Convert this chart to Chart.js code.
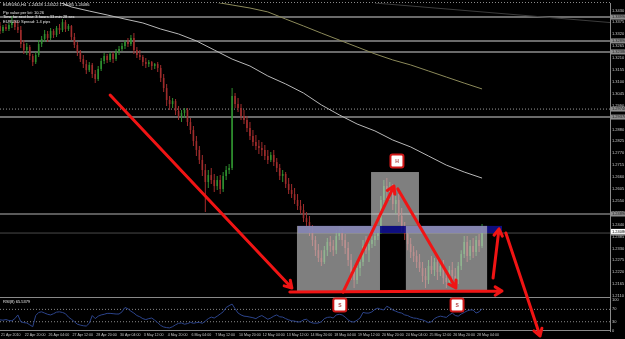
<!DOCTYPE html>
<html>
<head>
<meta charset="utf-8">
<script src="https://cdn.jsdelivr.net/npm/chart.js@4.4.0/dist/chart.umd.min.js"></script>
<style>
  html, body { margin: 0; padding: 0; background: #000; }
  #wrap { width: 625px; height: 339px; }
</style>
</head>
<body>
<div id="wrap"><canvas id="chart" width="625" height="339"></canvas></div>
<script>
// EURUSD H4, 21 Apr - 28 May 2010, one value per bar
const tickLabels = ["21 Apr 2010", "22 Apr 20:00", "26 Apr 04:00", "27 Apr 12:00", "28 Apr 20:00", "30 Apr 04:00",
  "3 May 12:00", "4 May 20:00", "6 May 04:00", "7 May 12:00", "10 May 20:00", "12 May 04:00", "13 May 12:00",
  "14 May 20:00", "18 May 04:00", "19 May 12:00", "20 May 20:00", "24 May 04:00", "25 May 12:00",
  "26 May 20:00", "28 May 04:00"];

const priceTicks = [1.2110, 1.2165, 1.2220, 1.2275, 1.2330, 1.2385, 1.2440, 1.2495, 1.2550, 1.2605, 1.2660,
  1.2715, 1.2770, 1.2825, 1.2880, 1.2935, 1.2990, 1.3045, 1.3100, 1.3155, 1.3210, 1.3265, 1.3320, 1.3375, 1.3430];
const rsiTicks = [100, 70, 30, 0];

const opens = [1.3358,1.3335,1.3353,1.3344,1.3362,1.3376,1.3353,1.3339,1.3275,1.3247,
  1.3261,1.3219,1.3191,1.3224,1.3275,1.3298,1.3321,1.3302,1.3335,1.3316,
  1.3349,1.3339,1.3376,1.3344,1.3358,1.3307,1.3270,1.3238,1.3205,1.3182,
  1.3154,1.3178,1.3136,1.3113,1.3159,1.3196,1.3219,1.3201,1.3228,1.3205,
  1.3238,1.3252,1.3265,1.3284,1.3275,1.3302,1.3247,1.3224,1.3215,1.3191,
  1.3182,1.3191,1.3173,1.3182,1.3164,1.3118,1.3071,1.3016,1.2997,1.3011,
  1.2965,1.2942,1.2956,1.2970,1.2914,1.2877,1.2826,1.2785,1.2739,1.2692,
  1.2637,1.2669,1.2646,1.2618,1.2646,1.2605,1.2665,1.2692,1.2702,1.3034,
  1.2997,1.2979,1.2942,1.2923,1.2886,1.2849,1.2822,1.2803,1.2794,1.2785,
  1.2757,1.2739,1.2762,1.2729,1.2702,1.2665,1.2674,1.2628,1.2600,1.2581,
  1.2554,1.2526,1.2507,1.2470,1.2452,1.2415,1.2369,1.2322,1.2286,1.2267,
  1.2322,1.2360,1.2341,1.2322,1.2387,1.2406,1.2369,1.2332,1.2276,1.2221,
  1.2184,1.2239,1.2267,1.2341,1.2322,1.2350,1.2369,1.2387,1.2415,1.2554,
  1.2618,1.2591,1.2609,1.2535,1.2554,1.2480,1.2433,1.2396,1.2350,1.2313,
  1.2295,1.2267,1.2239,1.2202,1.2184,1.2249,1.2230,1.2267,1.2221,1.2249,
  1.2193,1.2175,1.2230,1.2202,1.2184,1.2249,1.2304,1.2360,1.2295,1.2341,
  1.2313,1.2369,1.2341];
const highs = [1.3376,1.3362,1.3367,1.3372,1.3404,1.3386,1.3381,1.3358,1.3293,1.3279,
  1.3270,1.3228,1.3238,1.3293,1.3312,1.3339,1.3335,1.3349,1.3344,1.3358,
  1.3367,1.3390,1.3386,1.3367,1.3362,1.3325,1.3284,1.3247,1.3224,1.3201,
  1.3191,1.3187,1.3154,1.3173,1.3210,1.3233,1.3228,1.3238,1.3238,1.3252,
  1.3265,1.3279,1.3293,1.3302,1.3316,1.3325,1.3261,1.3247,1.3224,1.3210,
  1.3201,1.3196,1.3187,1.3191,1.3178,1.3136,1.3090,1.3034,1.3025,1.3020,
  1.2988,1.2970,1.2979,1.2979,1.2933,1.2896,1.2849,1.2803,1.2762,1.2720,
  1.2692,1.2702,1.2674,1.2665,1.2669,1.2683,1.2711,1.2720,1.3071,1.3048,
  1.3025,1.2997,1.2970,1.2942,1.2914,1.2877,1.2854,1.2831,1.2822,1.2808,
  1.2785,1.2776,1.2785,1.2748,1.2720,1.2692,1.2683,1.2655,1.2628,1.2609,
  1.2581,1.2554,1.2535,1.2498,1.2480,1.2438,1.2387,1.2350,1.2322,1.2341,
  1.2378,1.2387,1.2369,1.2415,1.2433,1.2424,1.2396,1.2360,1.2304,1.2249,
  1.2267,1.2295,1.2369,1.2387,1.2369,1.2387,1.2415,1.2433,1.2572,1.2646,
  1.2655,1.2637,1.2628,1.2572,1.2581,1.2517,1.2452,1.2424,1.2378,1.2341,
  1.2322,1.2304,1.2267,1.2239,1.2276,1.2295,1.2286,1.2295,1.2267,1.2276,
  1.2230,1.2249,1.2267,1.2239,1.2267,1.2322,1.2387,1.2387,1.2369,1.2378,
  1.2387,1.2396,1.2443];
const lows = [1.3321,1.3325,1.3335,1.3335,1.3349,1.3339,1.3325,1.3256,1.3228,1.3224,
  1.3201,1.3173,1.3182,1.3215,1.3261,1.3284,1.3284,1.3293,1.3302,1.3307,
  1.3321,1.3330,1.3330,1.3335,1.3293,1.3256,1.3219,1.3191,1.3164,1.3136,
  1.3145,1.3118,1.3094,1.3104,1.3150,1.3182,1.3187,1.3191,1.3187,1.3196,
  1.3224,1.3242,1.3252,1.3261,1.3265,1.3228,1.3210,1.3201,1.3173,1.3164,
  1.3168,1.3154,1.3159,1.3145,1.3099,1.3053,1.2988,1.2970,1.2979,1.2946,
  1.2923,1.2914,1.2933,1.2896,1.2859,1.2803,1.2757,1.2720,1.2665,1.2498,
  1.2609,1.2628,1.2591,1.2600,1.2581,1.2591,1.2646,1.2674,1.2692,1.2979,
  1.2960,1.2923,1.2905,1.2868,1.2831,1.2803,1.2785,1.2766,1.2757,1.2739,
  1.2720,1.2729,1.2711,1.2683,1.2646,1.2637,1.2609,1.2581,1.2563,1.2535,
  1.2507,1.2489,1.2452,1.2433,1.2387,1.2341,1.2295,1.2267,1.2249,1.2258,
  1.2295,1.2313,1.2295,1.2304,1.2369,1.2341,1.2304,1.2249,1.2184,1.2147,
  1.2165,1.2202,1.2249,1.2304,1.2267,1.2332,1.2341,1.2369,1.2396,1.2526,
  1.2563,1.2554,1.2507,1.2489,1.2452,1.2406,1.2369,1.2322,1.2286,1.2267,
  1.2239,1.2221,1.2175,1.2147,1.2165,1.2212,1.2202,1.2184,1.2202,1.2165,
  1.2147,1.2156,1.2175,1.2156,1.2165,1.2230,1.2286,1.2267,1.2276,1.2286,
  1.2295,1.2313,1.2332];
const closes = [1.3335,1.3353,1.3344,1.3362,1.3376,1.3353,1.3339,1.3275,1.3247,1.3261,
  1.3219,1.3191,1.3224,1.3275,1.3298,1.3321,1.3302,1.3335,1.3316,1.3349,
  1.3339,1.3376,1.3344,1.3358,1.3307,1.3270,1.3238,1.3205,1.3182,1.3154,
  1.3178,1.3136,1.3113,1.3159,1.3196,1.3219,1.3201,1.3228,1.3205,1.3238,
  1.3252,1.3265,1.3284,1.3275,1.3302,1.3247,1.3224,1.3215,1.3191,1.3182,
  1.3191,1.3173,1.3182,1.3164,1.3118,1.3071,1.3016,1.2997,1.3011,1.2965,
  1.2942,1.2956,1.2970,1.2914,1.2877,1.2826,1.2785,1.2739,1.2692,1.2637,
  1.2669,1.2646,1.2618,1.2646,1.2605,1.2665,1.2692,1.2702,1.3034,1.2997,
  1.2979,1.2942,1.2923,1.2886,1.2849,1.2822,1.2803,1.2794,1.2785,1.2757,
  1.2739,1.2762,1.2729,1.2702,1.2665,1.2674,1.2628,1.2600,1.2581,1.2554,
  1.2526,1.2507,1.2470,1.2452,1.2415,1.2369,1.2322,1.2286,1.2267,1.2322,
  1.2360,1.2341,1.2322,1.2387,1.2406,1.2369,1.2332,1.2276,1.2221,1.2184,
  1.2239,1.2267,1.2341,1.2322,1.2350,1.2369,1.2387,1.2415,1.2554,1.2618,
  1.2591,1.2609,1.2535,1.2554,1.2480,1.2433,1.2396,1.2350,1.2313,1.2295,
  1.2267,1.2239,1.2202,1.2184,1.2249,1.2230,1.2267,1.2221,1.2249,1.2193,
  1.2175,1.2230,1.2202,1.2184,1.2249,1.2304,1.2360,1.2295,1.2341,1.2313,
  1.2369,1.2341,1.2406];

const rsi = [36,35,37,34,33,40,52,30,27,26,
  20,14,50,60,62,58,54,52,56,61,
  62,60,56,45,38,30,22,19,17,16,
  25,50,40,48,52,54,57,57,56,55,
  55,62,76,72,64,58,50,46,40,37,
  40,42,35,27,18,13,11,10,14,20,
  25,26,22,24,28,25,27,28,25,32,
  40,45,42,48,55,62,76,82,87,72,
  58,52,48,47,45,43,40,46,50,44,
  38,42,48,52,46,45,40,36,33,32,
  29,30,36,38,30,26,25,26,30,40,
  44,45,42,52,54,52,45,36,30,29,
  35,42,60,58,58,62,70,74,70,68,
  80,75,68,64,60,58,52,50,45,42,
  41,38,36,32,27,30,40,45,48,46,
  44,52,58,50,48,55,60,65,68,68,
  58,62,72];

// moving averages, read every 6 bars
const maBars = [0,6,12,18,24,30,36,42,48,54,60,66,72,78,84,90,96,102,108,114,120,126,132,138,144,150,156,162];
const maFast = [1.3533,1.3515,1.3497,1.3478,1.3446,1.3427,1.3409,1.3390,1.3372,1.3344,1.3321,1.3289,1.3247,1.3205,
  1.3173,1.3127,1.3090,1.3048,1.2993,1.2947,1.2905,1.2873,1.2831,1.2799,1.2757,1.2715,1.2683,1.2655];
const maSlow = [null,null,null,null,null,null,null,null,null,1.3525,1.3510,1.3490,1.3469,1.3455,
  1.3441,1.3423,1.3390,1.3358,1.3325,1.3293,1.3261,1.3229,1.3201,1.3178,1.3150,1.3122,1.3094,1.3067];

// chart objects drawn by hand on the terminal
const trendBars = [126, 205];
const trendPrices = [1.3464, 1.3374];
const hLevels = [1.3399, 1.3289, 1.3238, 1.2974, 1.2937, 1.2489, 1.2401];
const rsiLevels = [70, 30];
const bidPrice = 1.24086;
const band = [100.1, 168.7, 1.2401, 1.2434];
const boxes = [[99.8, 127.7, 1.2128, 1.2434], [124.7, 140.8, 1.2434, 1.2683], [136.4, 163.7, 1.2128, 1.2434]];
const arrows = [[37.0, 1.3039, 98.1, 1.2147], [97.4, 1.2128, 168.7, 1.2133], [115.3, 1.2128, 132.4, 1.2618],
  [133.7, 1.2605, 153.2, 1.2147], [165.7, 1.2193, 167.7, 1.2420], [170.0, 1.2401, 181.5, 1.1925]];
const headTag = [133.4, 1.2734, "H"];
const shoulderTags = [[114.2, 84, "S"], [153.6, 84, "S"]];
const header = ["EURUSD,H4  1.24328 1.24522 1.24085 1.24086", "Pip value per lot: 10.26",
  "Time for next bar: 3 hours 33 min 28 sec", "EURUSD Spread: 1.4 pips"];
const rsiName = "RSI(8) 65.5379";

const UP = "#2f8f2f", DOWN = "#a02c2c";
const FONT = "'Liberation Sans', Arial, sans-serif";
const candleColor = c => closes[c.dataIndex] >= opens[c.dataIndex] ? UP : DOWN;

const lineStyles = [
  { color: "#6a6a6a", width: 2, dash: [] }, { color: "#6a6a6a", width: 2, dash: [] },
  { color: "#6a6a6a", width: 2, dash: [] }, { color: "#9a9a9a", width: 1, dash: [1, 2] },
  { color: "#6a6a6a", width: 2, dash: [] }, { color: "#b4b4b4", width: 1, dash: [] },
  { color: "#4a4a4a", width: 1, dash: [] }
];

const datasets = [
  {
    type: "bar", yAxisID: "y", grouped: false, order: 3, barThickness: 1, inflateAmount: 0,
    data: lows.map((l, i) => ({ x: i, y: [l, highs[i]] })),
    backgroundColor: candleColor
  },
  {
    type: "bar", yAxisID: "y", grouped: false, order: 2, barThickness: 1.6, inflateAmount: 0, minBarLength: 1,
    data: opens.map((o, i) => ({ x: i, y: [o, closes[i]] })),
    backgroundColor: candleColor
  },
  {
    type: "line", yAxisID: "y", order: 1, borderColor: "#b8b8b8", borderWidth: 1, pointRadius: 0,
    data: maBars.map((b, i) => ({ x: b, y: maFast[i] }))
  },
  {
    type: "line", yAxisID: "y", order: 1, borderColor: "#8c8a5a", borderWidth: 1, pointRadius: 0,
    data: maBars.map((b, i) => ({ x: b, y: maSlow[i] }))
  },
  {
    type: "line", yAxisID: "y", order: 1, borderColor: "#3c3c3c", borderWidth: 1, pointRadius: 0,
    data: trendBars.map((b, i) => ({ x: b, y: trendPrices[i] }))
  },
  {
    type: "line", yAxisID: "rsi", order: 1, borderColor: "#2c448c", borderWidth: 1, pointRadius: 0,
    data: rsi.map((v, i) => ({ x: i, y: v }))
  }
];
hLevels.forEach((lv, k) => datasets.push({
  type: "line", yAxisID: "y", order: 4, pointRadius: 0,
  borderColor: lineStyles[k].color, borderWidth: lineStyles[k].width, borderDash: lineStyles[k].dash,
  data: [{ x: 0, y: lv }, { x: 205, y: lv }]
}));
rsiLevels.forEach(lv => datasets.push({
  type: "line", yAxisID: "rsi", order: 4, pointRadius: 0,
  borderColor: "#8a8a8a", borderWidth: 1, borderDash: [1, 2],
  data: [{ x: 0, y: lv }, { x: 205, y: lv }]
}));

function drawArrow(ctx, x1, y1, x2, y2) {
  const a = Math.atan2(y2 - y1, x2 - x1), h = 8;
  ctx.beginPath();
  ctx.moveTo(x1, y1);
  ctx.lineTo(x2, y2);
  ctx.moveTo(x2 - h * Math.cos(a - 0.55), y2 - h * Math.sin(a - 0.55));
  ctx.lineTo(x2, y2);
  ctx.lineTo(x2 - h * Math.cos(a + 0.55), y2 - h * Math.sin(a + 0.55));
  ctx.stroke();
}

function drawTag(ctx, cx, cy, t) {
  ctx.fillStyle = "#ffffff";
  ctx.strokeStyle = "#d01818";
  ctx.lineWidth = 2;
  ctx.beginPath();
  ctx.roundRect(cx - 6.5, cy - 6.5, 13, 13, 2);
  ctx.fill();
  ctx.stroke();
  ctx.fillStyle = "#b04040";
  ctx.font = "bold 5px " + FONT;
  ctx.textAlign = "center";
  ctx.textBaseline = "middle";
  ctx.fillText(t, cx, cy + 0.5);
}

const overlay = {
  id: "overlay",
  beforeDraw(chart) {
    const ctx = chart.ctx;
    ctx.save();
    ctx.fillStyle = "#000";
    ctx.fillRect(0, 0, chart.width, chart.height);
    ctx.restore();
  },
  afterDatasetsDraw(chart) {
    const { ctx, scales: { x, y } } = chart;
    ctx.save();
    // neckline band under the boxes
    ctx.fillStyle = "rgba(16,16,140,0.9)";
    ctx.fillRect(x.getPixelForValue(band[0]), y.getPixelForValue(band[3]),
      x.getPixelForValue(band[1]) - x.getPixelForValue(band[0]), y.getPixelForValue(band[2]) - y.getPixelForValue(band[3]));
    ctx.fillStyle = "rgba(205,205,205,0.62)";
    boxes.forEach(b => {
      const l = x.getPixelForValue(b[0]), r = x.getPixelForValue(b[1]);
      const t = y.getPixelForValue(b[3]), bt = y.getPixelForValue(b[2]);
      ctx.fillRect(l, t, r - l, bt - t);
    });
    ctx.restore();
  },
  afterDraw(chart) {
    const { ctx, chartArea, scales: { x, y, rsi: r } } = chart;
    ctx.save();
    // panel frames
    ctx.strokeStyle = "#8a8a8a";
    ctx.lineWidth = 1;
    ctx.beginPath();
    ctx.moveTo(0, r.top + 0.5); ctx.lineTo(chartArea.right, r.top + 0.5);
    ctx.moveTo(0, r.bottom - 0.5); ctx.lineTo(chartArea.right, r.bottom - 0.5);
    ctx.stroke();
    ctx.setLineDash([1, 2]);
    ctx.beginPath();
    ctx.moveTo(0, 2.5); ctx.lineTo(chartArea.right, 2.5);
    ctx.stroke();
    ctx.setLineDash([]);

    // price boxes on the right axis
    ctx.font = "4px " + FONT;
    ctx.textAlign = "left";
    ctx.textBaseline = "middle";
    hLevels.forEach(lv => {
      const py = y.getPixelForValue(lv);
      ctx.fillStyle = "#8c8c8c";
      ctx.fillRect(chartArea.right + 1, py - 2.5, 14, 5);
      ctx.fillStyle = "#202020";
      ctx.fillText(lv.toFixed(5), chartArea.right + 2, py);
    });
    const bp = y.getPixelForValue(bidPrice);
    ctx.fillStyle = "#ffffff";
    ctx.fillRect(chartArea.right + 1, bp - 2.5, 14, 5);
    ctx.fillStyle = "#000000";
    ctx.fillText(bidPrice.toFixed(5), chartArea.right + 2, bp);

    // hand-drawn arrows
    ctx.strokeStyle = "#f01414";
    ctx.lineWidth = 3;
    ctx.lineCap = "round";
    ctx.lineJoin = "round";
    arrows.forEach(a => drawArrow(ctx, x.getPixelForValue(a[0]), y.getPixelForValue(a[1]),
      x.getPixelForValue(a[2]), y.getPixelForValue(a[3])));

    drawTag(ctx, x.getPixelForValue(headTag[0]), y.getPixelForValue(headTag[1]), headTag[2]);
    shoulderTags.forEach(s => drawTag(ctx, x.getPixelForValue(s[0]), r.getPixelForValue(s[1]), s[2]));

    // terminal texts
    ctx.fillStyle = "#e8e8e8";
    ctx.font = "4px " + FONT;
    ctx.textAlign = "left";
    ctx.textBaseline = "middle";
    ctx.fillText(header[0], 3, 5);
    ctx.fillText(header[1], 3, 12.5);
    ctx.fillText(header[2], 3, 17);
    ctx.fillText(header[3], 3, 21.5);
    ctx.fillText(rsiName, 3, r.top + 5);
    ctx.restore();
  }
};

new Chart(document.getElementById("chart"), {
  type: "bar",
  data: { datasets: datasets },
  plugins: [overlay],
  options: {
    responsive: false,
    animation: false,
    devicePixelRatio: 1,
    events: [],
    layout: { padding: { top: 3, left: 0, right: 0, bottom: 0 } },
    plugins: { legend: { display: false }, tooltip: { enabled: false } },
    scales: {
      x: {
        type: "linear", min: 0, max: 205, offset: false,
        grid: { display: false, drawTicks: false }, border: { display: false },
        afterBuildTicks: s => { s.ticks = tickLabels.map((t, k) => ({ value: k * 8 })); },
        ticks: {
          autoSkip: false, maxRotation: 0, align: "start", padding: 2, labelOffset: 1,
          color: "#c8c8c8", font: { size: 3.6, family: FONT },
          callback: v => tickLabels[Math.round(v / 8)]
        },
        afterFit: s => { s.height = 8; s.paddingLeft = 0; s.paddingRight = 0; }
      },
      y: {
        type: "linear", position: "right", stack: "panes", stackWeight: 294,
        min: 1.21054, max: 1.34642,
        grid: { display: false, drawTicks: false }, border: { color: "#8a8a8a" },
        afterBuildTicks: s => { s.ticks = priceTicks.map(v => ({ value: v })); },
        ticks: { autoSkip: false, padding: 2, color: "#c8c8c8", font: { size: 4, family: FONT }, callback: v => v.toFixed(4) },
        afterFit: s => { s.width = 15; s.paddingTop = 0; s.paddingBottom = 0; }
      },
      rsi: {
        type: "linear", position: "right", stack: "panes", stackWeight: 34,
        min: 0, max: 110,
        grid: { display: false, drawTicks: false }, border: { color: "#8a8a8a" },
        afterBuildTicks: s => { s.ticks = rsiTicks.map(v => ({ value: v })); },
        ticks: { autoSkip: false, padding: 2, color: "#c8c8c8", font: { size: 4, family: FONT } },
        afterFit: s => { s.width = 15; s.paddingTop = 0; s.paddingBottom = 0; }
      }
    }
  }
});
</script>
</body>
</html>
